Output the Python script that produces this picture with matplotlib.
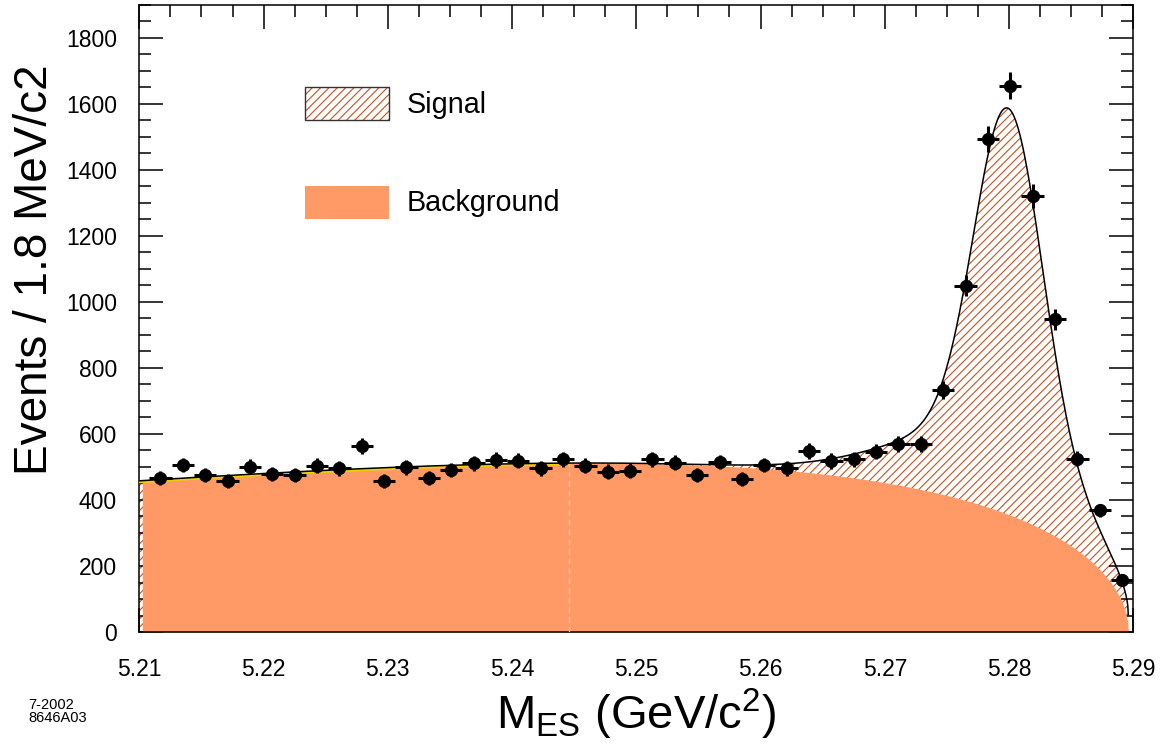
import numpy as np
import matplotlib
matplotlib.use("Agg")
import matplotlib.pyplot as plt
from matplotlib.patches import Rectangle
from matplotlib.ticker import MultipleLocator, FormatStrFormatter

plt.rcParams['font.family'] = ['Liberation Sans', 'DejaVu Sans']
plt.rcParams['mathtext.default'] = 'regular'
plt.rcParams['hatch.linewidth'] = 0.8

# bin centres (1.8 MeV bins) and event counts
mes = [5.2117, 5.2135, 5.2153, 5.2171, 5.2189, 5.2207, 5.2225, 5.2243,
       5.2261, 5.2279, 5.2297, 5.2315, 5.2333, 5.2351, 5.2369, 5.2387,
       5.2405, 5.2423, 5.2441, 5.2459, 5.2477, 5.2495, 5.2513, 5.2531,
       5.2549, 5.2567, 5.2585, 5.2603, 5.2621, 5.2639, 5.2657, 5.2675,
       5.2693, 5.2711, 5.2729, 5.2747, 5.2765, 5.2783, 5.2801, 5.2819,
       5.2837, 5.2855, 5.2873, 5.2891]
events = [466, 506, 476, 458, 501, 479, 476, 504, 496, 564, 457, 499,
          466, 491, 511, 521, 519, 496, 523, 504, 486, 489, 523, 513,
          476, 515, 463, 506, 496, 548, 518, 523, 546, 570, 570, 734,
          1049, 1493, 1655, 1322, 947, 525, 369, 157]
half_bin = 0.0009

# fit components (ARGUS background + signal peak), parameters
argus_m0 = 5.2896
argus_c = -30.0
argus_at_start = 458.0
sig_mean = 5.2799
sig_core = (990.0, 0.0027)
sig_wide = (240.0, 0.0080, 0.0055)

x_ticks = [5.21, 5.22, 5.23, 5.24, 5.25, 5.26, 5.27, 5.28, 5.29]
y_ticks = [0, 200, 400, 600, 800, 1000, 1200, 1400, 1600, 1800]


def argus_shape(m):
    u = np.clip(1 - (m / argus_m0) ** 2, 0, None)
    return m * np.sqrt(u) * np.exp(argus_c * u)


def background(m):
    return argus_at_start * argus_shape(m) / argus_shape(np.array(5.21))


def signal(m):
    d = m - sig_mean
    core = sig_core[0] * np.exp(-d ** 2 / (2 * sig_core[1] ** 2))
    s2 = np.where(d < 0, sig_wide[1], sig_wide[2])
    wide = sig_wide[0] * np.exp(-d ** 2 / (2 * s2 ** 2))
    return core + wide


fig = plt.figure(figsize=(11.67, 7.47), dpi=100)
ax = fig.add_axes([0.1194, 0.1539, 0.8517, 0.8398])

m = np.linspace(5.2100, argus_m0, 2000)
bg = background(m)
tot = bg + signal(m)

hatch_col = '#c4521e'
orange = '#ff9966'
ax.fill_between(m, 0, tot, facecolor='white', edgecolor=hatch_col,
                hatch='////', linewidth=0, zorder=1)
mb = m[m >= 5.2102]
ax.fill_between(mb, 0, background(mb), color=orange, linewidth=0, zorder=2)

# seam line in the background fill
seam = 5.2446
ax.vlines(seam, 0, background(np.array(seam)), colors='#ffc7a8',
          linestyles=(0, (4, 3)), linewidth=1, zorder=3)

left = m < seam
ax.plot(m[left], tot[left] - 4, color='#f0d000', lw=1.6, zorder=3)
ax.plot(m, tot, color='black', lw=1.1, zorder=4)

ax.errorbar(mes, events, xerr=half_bin, yerr=np.sqrt(events), fmt='o',
            color='black', ms=8.5, elinewidth=2.2, capsize=0, zorder=5)

ax.set_xlim(5.21, 5.29)
ax.set_ylim(0, 1900)
ax.set_xticks(x_ticks)
ax.set_yticks(y_ticks)
ax.xaxis.set_major_formatter(FormatStrFormatter('%.2f'))
ax.xaxis.set_minor_locator(MultipleLocator(0.0025))
ax.yaxis.set_minor_locator(MultipleLocator(50))
ax.tick_params(which='both', direction='in', top=True, right=True,
               labelsize=16.5, width=1.1)
ax.tick_params(which='major', length=17.5)
ax.tick_params(which='minor', length=8.5)
ax.tick_params(axis='x', which='major', pad=19)
ax.tick_params(axis='y', which='major', pad=16)
for sp in ax.spines.values():
    sp.set_linewidth(1.1)

ax.set_xlabel(r'M$_{ES}$ (GeV/c$^{2}$)', fontsize=34, labelpad=4)
ax.set_ylabel('Events / 1.8 MeV/c2', fontsize=33)
ax.yaxis.set_label_coords(-0.083, 0.577)

# hand-placed legend
ax.add_patch(Rectangle((0.1662, 0.8162), 0.0847, 0.0531, transform=ax.transAxes,
                       facecolor='white', edgecolor=hatch_col, hatch='////',
                       linewidth=0, zorder=6))
ax.add_patch(Rectangle((0.1662, 0.8162), 0.0847, 0.0531, transform=ax.transAxes,
                       facecolor='none', edgecolor='#333333', linewidth=1.0,
                       zorder=7))
ax.add_patch(Rectangle((0.1662, 0.6579), 0.0847, 0.0536, transform=ax.transAxes,
                       facecolor=orange, edgecolor='none', zorder=6))
ax.text(0.269, 0.840, 'Signal', transform=ax.transAxes, fontsize=20.7,
        va='center', ha='left')
ax.text(0.269, 0.684, 'Background', transform=ax.transAxes, fontsize=20.7,
        va='center', ha='left')

fig.text(0.024, 0.03, '7-2002\n8646A03', fontsize=10.5, ha='left',
         va='bottom', linespacing=0.9)

fig.savefig('out.png', dpi=100)
